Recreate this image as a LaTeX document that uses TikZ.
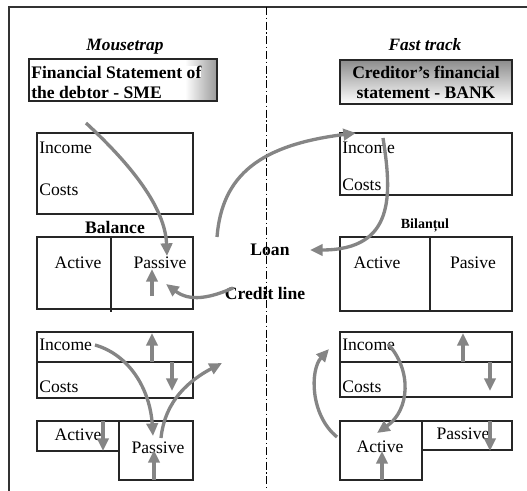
\documentclass[tikz,border=0pt]{standalone}
\usepackage{fontspec}
\setmainfont{Liberation Serif}
\usetikzlibrary{arrows.meta}

\tikzset{
	box/.style={draw=black!85, line width=0.9pt},
	flow/.style={draw=black!48, line width=2.5pt, -{Triangle[length=9.5pt,width=8.5pt]}},
	txt/.style={inner sep=0pt, font=\fontsize{13.2}{15}\selectfont},
	btxt/.style={inner sep=0pt, font=\fontsize{13.2}{15}\selectfont\bfseries},
	ititle/.style={inner sep=0pt, font=\fontsize{13}{15}\selectfont\bfseries\itshape}
}

\begin{document}
\begin{tikzpicture}[x=0.75pt, y=-0.75pt]
	\useasboundingbox (0,0) rectangle (527,491);

	% frame and separator
	\draw[line width=0.9pt, black!80] (9,491) -- (9,7) -- (527,7);
	\draw[line width=0.6pt, dash pattern=on 6pt off 2pt on 1pt off 2pt] (266,7) -- (266,491);

	% left side: debtor
	\node[ititle] (mtrap) at (125,47) {Mousetrap};
	\fill[white] (29,59) rectangle (217,101);
	\shade[left color=white, right color=black!40] (185,59) rectangle (217,101);
	\draw[box] (29,59) rectangle (217,101);
	\node[btxt, fill=white, anchor=west] (hdrLa) at (31,72) {Financial Statement of};
	\node[btxt, fill=white, anchor=west] (hdrLb) at (31,92) {the debtor - SME};

	\draw[box] (37,133) rectangle (193,214);
	\node[txt, anchor=west] (incA) at (39,148) {Income};
	\node[txt, anchor=west] (costA) at (39,190) {Costs};

	\node[btxt] (bal) at (115,227) {Balance};
	\draw[box] (37,237) rectangle (193,309);
	\draw[box] (111,237) -- (111,312);
	\node[txt] (actA) at (78,263) {Active};
	\node[txt] (pasA) at (160,263) {Passive};

	\draw[box] (37,332) rectangle (193,398);
	\draw[box] (37,362) -- (193,362);
	\node[txt, anchor=west] (incB) at (39,345) {Income};
	\node[txt, anchor=west] (costB) at (39,387) {Costs};

	\draw[box] (37,421) rectangle (119,451);
	\draw[box] (119,421) rectangle (193,480);
	\node[txt] (actB) at (78,435) {Active};
	\node[txt] (pasB) at (158,448) {Passive};

	% middle
	\node[btxt] (loan) at (270,250) {Loan};
	\node[btxt] (credit) at (265,293) {Credit line};

	% right side: bank
	\node[ititle] (fast) at (425,45) {Fast track};
	\shade[top color=black!45, bottom color=white] (340,60) rectangle (512,104);
	\draw[box] (340,60) rectangle (512,104);
	\node[btxt, align=center] (hdrR) at (426,82) {Creditor’s financial\\statement - BANK};

	\draw[box] (340,133) rectangle (512,195);
	\node[txt, anchor=west] (incC) at (342,148) {Income};
	\node[txt, anchor=west] (costC) at (342,185) {Costs};

	\node[inner sep=0pt, font=\fontsize{10.5}{12}\selectfont\bfseries] (bil) at (425,225) {Bilanțul};
	\draw[box] (340,237) rectangle (512,311);
	\draw[box] (430,237) -- (430,311);
	\node[txt] (actC) at (377,263) {Active};
	\node[txt] (pasC) at (473,263) {Pasive};

	\draw[box] (340,332) rectangle (512,397);
	\draw[box] (340,362) -- (512,362);
	\node[txt, anchor=west] (incD) at (342,345) {Income};
	\node[txt, anchor=west] (costD) at (342,387) {Costs};

	\draw[box] (340,421) rectangle (422,480);
	\draw[box] (422,421) rectangle (512,450);
	\node[txt] (actD) at (380,447) {Active};
	\node[txt] (pasD) at (463,434) {Passive};

	% arrow ends
	\coordinate (s1) at (86,123);   \coordinate (e1) at (167,256);
	\coordinate (s2) at (233,288);  \coordinate (e2) at (166,284);
	\coordinate (s3) at (152,296);  \coordinate (e3) at (152,269);
	\coordinate (s4) at (217,237);  \coordinate (e4) at (356,133);
	\coordinate (s5) at (383,138);  \coordinate (e5) at (310,250);
	\coordinate (s6) at (152,362);  \coordinate (e6) at (152,333);
	\coordinate (s7) at (172,362);  \coordinate (e7) at (172,391);
	\coordinate (s8) at (95,345);   \coordinate (e8) at (153,436);
	\coordinate (s9) at (161,438);  \coordinate (e9) at (222,363);
	\coordinate (s10) at (103,421); \coordinate (e10) at (103,451);
	\coordinate (s11) at (154,480); \coordinate (e11) at (154,450);
	\coordinate (s12) at (463,362); \coordinate (e12) at (463,333);
	\coordinate (s13) at (490,362); \coordinate (e13) at (490,391);
	\coordinate (s14) at (388,344); \coordinate (e14) at (377,433);
	\coordinate (s15) at (337,437); \coordinate (e15) at (329,349);
	\coordinate (s16) at (382,480); \coordinate (e16) at (382,451);
	\coordinate (s17) at (490,421); \coordinate (e17) at (490,451);

	% flows
	\draw[flow] (s1) .. controls (115,150) and (165,200) .. (e1);
	\draw[flow] (s2) .. controls (210,298) and (190,302) .. (e2);
	\draw[flow] (s3) -- (e3);
	\draw[flow] (s4) .. controls (222,175) and (260,145) .. (e4);
	\draw[flow] (s5) .. controls (392,195) and (395,250) .. (e5);
	\draw[flow] (s6) -- (e6);
	\draw[flow] (s7) -- (e7);
	\draw[flow] (s8) .. controls (130,355) and (150,390) .. (e8);
	\draw[flow] (s9) .. controls (165,400) and (190,380) .. (e9);
	\draw[flow] (s10) -- (e10);
	\draw[flow] (s11) -- (e11);
	\draw[flow] (s12) -- (e12);
	\draw[flow] (s13) -- (e13);
	\draw[flow] (s14) .. controls (412,370) and (410,410) .. (e14);
	\draw[flow] (s15) .. controls (310,415) and (310,370) .. (e15);
	\draw[flow] (s16) -- (e16);
	\draw[flow] (s17) -- (e17);
\end{tikzpicture}
\end{document}
